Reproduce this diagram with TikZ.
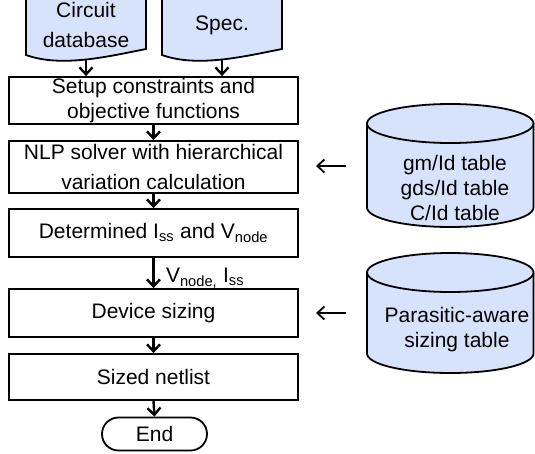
\documentclass[tikz,border=0pt]{standalone}
\usepackage{fontspec}
\setmainfont{Liberation Sans}
\usetikzlibrary{arrows.meta,shapes.misc}
\definecolor{dbfill}{RGB}{215,227,252}
\begin{document}
\begin{tikzpicture}[x=1pt,y=1pt,
  every node/.style={font=\fontsize{21}{25}\selectfont},
  stepbox/.style={draw, line width=1.8pt, minimum width=289pt, inner sep=0pt, align=center},
  docnode/.style={align=center, minimum width=120pt, minimum height=70pt, inner sep=0pt},
  flow/.style={line width=2.4pt, -{Straight Barb[length=7pt,width=13pt]}},
  feed/.style={line width=1.8pt, -{Straight Barb[length=7pt,width=13pt]}},
  docfill/.style={fill=dbfill, draw, line width=1.8pt},
  dbbody/.style={fill=dbfill},
  dbline/.style={draw, line width=1.8pt},
]
\useasboundingbox (0,0) rectangle (535,-453);
\clip (0,0) rectangle (535,-453);

% document shapes
\path[docfill] (26,5) -- (26,-55) .. controls (62,-68) and (110,-56) .. (146,-49) -- (146,5) -- cycle;
\path[docfill] (162,5) -- (162,-55) .. controls (198,-68) and (246,-56) .. (282,-49) -- (282,5) -- cycle;
\node[docnode, font=\fontsize{21}{30}\selectfont] (cdb) at (86,-25) {Circuit\\database};
\node[docnode] (spec) at (222,-25) {Spec.};

% flow boxes
\node[stepbox, minimum height=47pt] (setup) at (153.5,-100.5) {Setup constraints and\\objective functions};
\node[stepbox, minimum height=52pt, font=\fontsize{21}{30}\selectfont] (nlp) at (153.5,-167) {NLP solver with hierarchical\\variation calculation};
\node[stepbox, minimum height=48pt] (det) at (153.5,-233) {Determined I\textsubscript{ss} and V\textsubscript{node}};
\node[stepbox, minimum height=48pt] (dev) at (153.5,-313) {Device sizing};
\node[stepbox, minimum height=46pt] (sized) at (153.5,-377) {Sized netlist};
\node[draw, rounded rectangle, line width=1.8pt, minimum width=105pt, minimum height=33pt, inner sep=0pt] (fin) at (154.5,-434) {End};

% connectors
\draw[flow] (cdb.south) -- (cdb.south |- setup.north);
\draw[flow] (spec.south) -- (spec.south |- setup.north);
\draw[flow] (setup.south) -- (nlp.north);
\draw[flow] (nlp.south) -- (det.north);
\draw[flow] (det.south) -- (dev.north) node[midway, right, xshift=8pt, yshift=-5pt] (lbl) {V\textsubscript{node,} I\textsubscript{ss}};
\draw[flow] (dev.south) -- (sized.north);
\draw[flow] (sized.south) -- (fin.north);

% cylinders
\path[dbbody] (367,-123.5) -- (367,-207.5) arc[start angle=180,end angle=360,x radius=83.25pt,y radius=19.5pt] -- (533.5,-123.5) arc[start angle=0,end angle=180,x radius=83.25pt,y radius=19.5pt] -- cycle;
\path[dbline] (367,-123.5) -- (367,-207.5) arc[start angle=180,end angle=360,x radius=83.25pt,y radius=19.5pt] -- (533.5,-123.5);
\path[dbline] (450.25,-123.5) ellipse[x radius=83.25pt, y radius=19.5pt];
\node[align=center] (tab1) at (455,-188) {gm/Id table\\gds/Id table\\C/Id table};

\path[dbbody] (367,-272.5) -- (367,-353.5) arc[start angle=180,end angle=360,x radius=83.25pt,y radius=19.5pt] -- (533.5,-272.5) arc[start angle=0,end angle=180,x radius=83.25pt,y radius=19.5pt] -- cycle;
\path[dbline] (367,-272.5) -- (367,-353.5) arc[start angle=180,end angle=360,x radius=83.25pt,y radius=19.5pt] -- (533.5,-272.5);
\path[dbline] (450.25,-272.5) ellipse[x radius=83.25pt, y radius=19.5pt];
\node[align=center] (tab2) at (457,-329.5) {Parasitic-aware\\sizing table};

% feed arrows
\coordinate (f1s) at (346,-166);
\coordinate (f1e) at (316,-166);
\coordinate (f2s) at (346,-313);
\coordinate (f2e) at (316,-313);
\draw[feed] (f1s) -- (f1e);
\draw[feed] (f2s) -- (f2e);
\end{tikzpicture}
\end{document}
